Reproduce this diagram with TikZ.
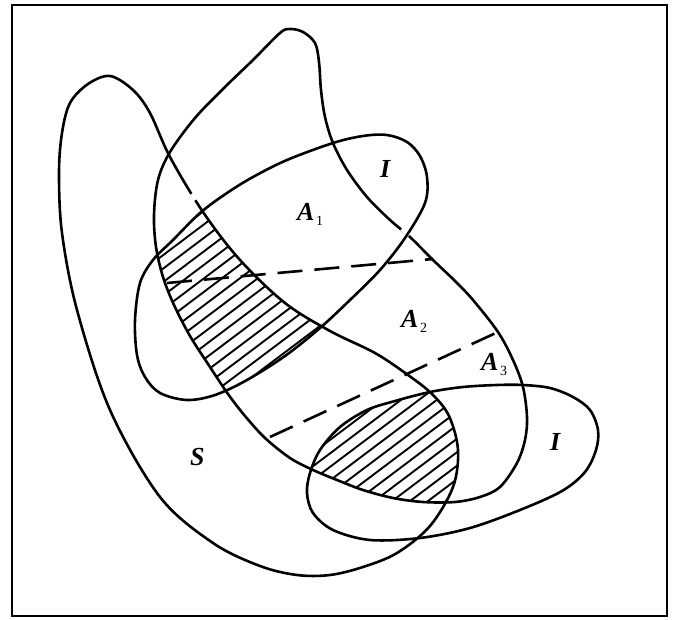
\documentclass[tikz,border=0pt]{standalone}
\usepackage{fontspec}
\setmainfont{Liberation Serif}
\newcommand{\lsub}[1]{\kern1.5pt\raisebox{-4.5pt}{\fontsize{14}{14}\selectfont\mdseries\upshape #1}}
\begin{document}
\begin{tikzpicture}[x=1pt,y=-1pt,
  curve/.style={line width=2.6pt, line join=round},
  hatchline/.style={line width=1.9pt},
  dashline/.style={line width=2.6pt, dash pattern=on 25pt off 12pt},
  gapmark/.style={white, line width=5pt},
  lbl/.style={font=\fontsize{26}{26}\selectfont\bfseries\itshape, inner sep=0pt, anchor=base west}]
\useasboundingbox (0,0) rectangle (673,620);
\def\Spath{plot[smooth cycle, tension=0.55] coordinates {(110,76) (88,84) (70,103) (62,133) (59,173) (62,233) (77,310) (110,410) (160,497) (213,543) (260,566) (297,575) (330,575) (363,567) (397,553) (430,526) (453,487) (458,450) (449,416) (432,394) (408,375) (375,353) (330,331) (285,303) (240,260) (203,212) (170,157) (150,113) (133,90)}}
\def\Tpath{plot[smooth cycle, tension=0.55] coordinates {(290,29) (303,32) (315,43) (319,62) (321,90) (325,117) (333,143) (347,170) (367,197) (390,220) (410,237) (433,260) (455,281) (473,300) (498,332) (513,360) (523,387) (527,417) (525,440) (517,463) (500,487) (480,497) (455,502) (423,502) (393,498) (363,490) (337,480) (313,470) (290,458) (265,438) (245,416) (228,394) (210,367) (190,336) (174,305) (163,277) (156,247) (154,215) (158,180) (170,152) (195,118) (225,87) (253,60) (280,33)}}
\def\Epath{plot[smooth cycle, tension=0.55] coordinates {(135,320) (140,283) (153,260) (173,240) (200,213) (227,193) (253,177) (287,160) (333,143) (363,136) (387,135) (407,142) (420,156) (427,177) (425,203) (405,238) (380,270) (350,300) (320,328) (285,356) (247,380) (215,395) (187,400) (160,393) (145,377) (137,355)}}
\def\Fpath{plot[smooth cycle, tension=0.55] coordinates {(307,493) (310,473) (320,450) (340,427) (367,410) (395,401) (430,392) (463,387) (497,385) (523,385) (550,388) (573,397) (590,410) (598,430) (596,450) (585,472) (562,491) (520,510) (470,528) (420,538) (370,540) (333,530) (313,513)}}
% frame
\draw[line width=2.8pt] (12,5) rectangle (667,616);
% hatching: S and T and I
\begin{scope}
  \clip \Spath;
  \clip \Tpath;
  \begin{scope}
    \clip \Epath;
    \foreach \b in {0,13.5,...,1200} \draw[hatchline] (0,\b) -- (673,{\b-507});
  \end{scope}
  \begin{scope}
    \clip \Fpath;
    \foreach \b in {0,13.5,...,1200} \draw[hatchline] (0,\b) -- (673,{\b-507});
  \end{scope}
\end{scope}
% outlines
\draw[curve] \Spath;
\draw[curve] \Tpath;
\draw[gapmark] (191.5,194) -- (195.5,200);
\draw[gapmark] (402,228.5) -- (409.5,235);
\draw[curve] \Epath;
\draw[curve] \Fpath;
% dashed divisions
\coordinate (d1a) at (167,283);
\coordinate (d1b) at (433,259);
\coordinate (d2a) at (270,437);
\coordinate (d2b) at (498,332);
\draw[dashline] (d1a) -- (d1b);
\draw[dashline] (d2a) -- (d2b);
% labels
\node[lbl] (Iup) at (380,178) {I};
\node[lbl] (A1) at (297,221) {A\lsub{1}};
\node[lbl] (A2) at (401,328) {A\lsub{2}};
\node[lbl] (A3) at (481,371) {A\lsub{3}};
\node[lbl] (Ilow) at (550,451) {I};
\node[lbl] (S) at (190,466) {S};
\end{tikzpicture}
\end{document}
